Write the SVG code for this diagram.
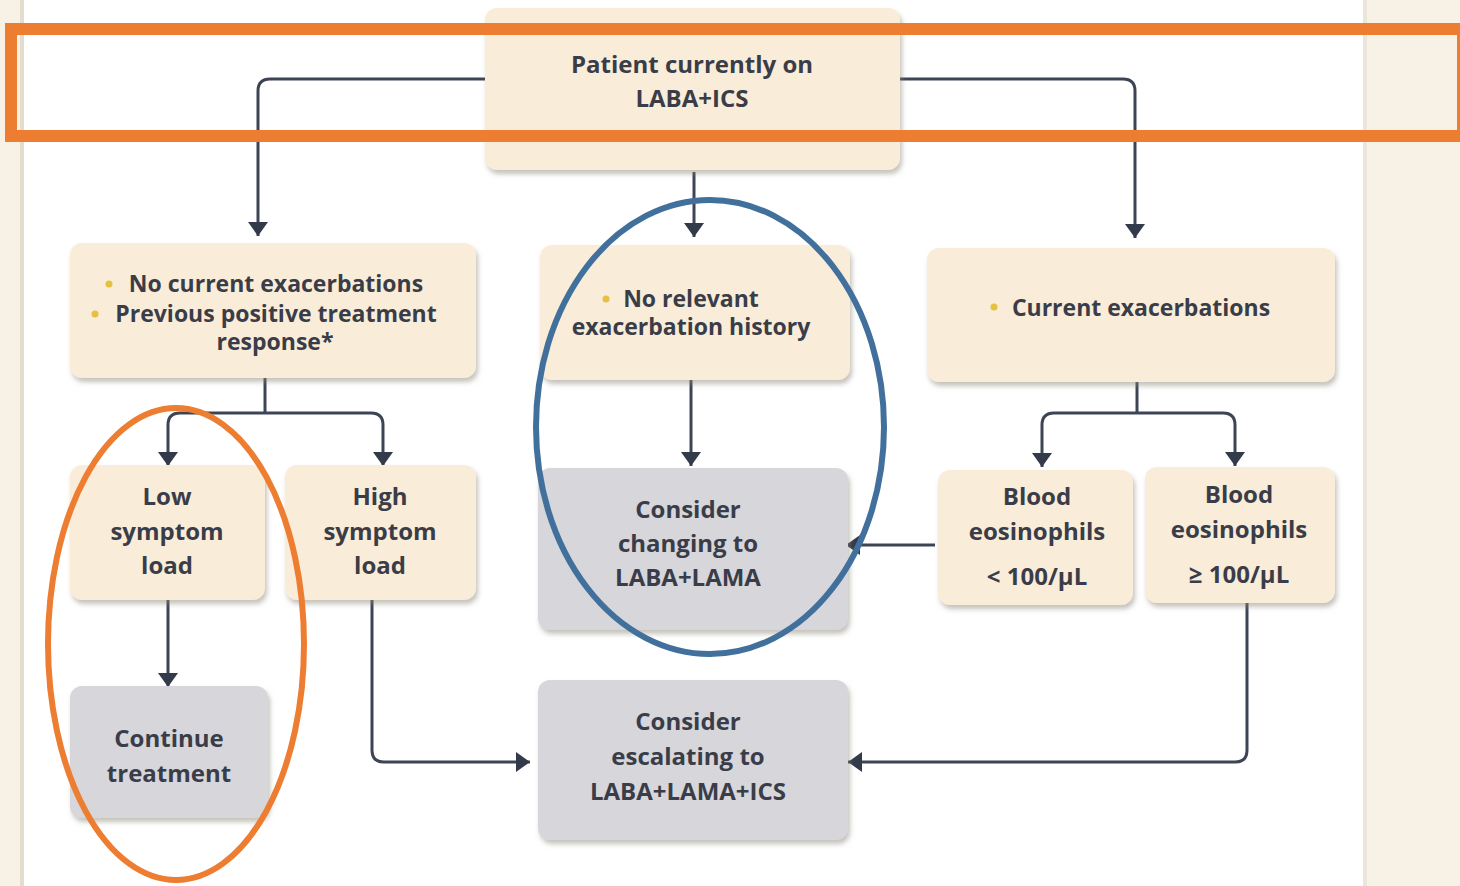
<svg xmlns="http://www.w3.org/2000/svg" width="1460" height="886" viewBox="0 0 1460 886">
<style>
.bg{fill:#ffffff}
.strip{fill:#f8f1e5}
.box{fill:#f9ecd8}
.gbox{fill:#d6d6db}
.t{font-family:"Open Sans","Noto Sans","Liberation Sans",sans-serif;font-weight:700;font-size:24px;fill:#3a3d48;text-anchor:middle}
.s{font-size:23px}
.c{fill:none;stroke:#3d4454;stroke-width:3}
.dot{fill:#e6c040}
.hl-o{fill:none;stroke:#ed7d31;stroke-width:12}
.el-o{fill:none;stroke:#ed7d31;stroke-width:6}
.el-b{fill:none;stroke:#41709c;stroke-width:6}
</style>
<defs>
<filter id="sh" x="-10%" y="-10%" width="125%" height="130%">
<feDropShadow dx="2" dy="4" stdDeviation="2.5" flood-color="#8a8478" flood-opacity="0.5"/>
</filter>
<marker id="ah" viewBox="0 0 14 20" refX="14" refY="10" markerWidth="14" markerHeight="20" markerUnits="userSpaceOnUse" orient="auto">
<path d="M0,0 L14,10 L0,20 Z" fill="#333a4a"/>
</marker>
</defs>
<rect class="bg" x="0" y="0" width="1460" height="886"/>
<rect class="strip" x="0" y="0" width="20" height="886"/>
<rect x="20" y="0" width="4" height="886" fill="#e4dccd"/>
<rect class="strip" x="1365" y="0" width="95" height="886"/>
<rect x="1363" y="0" width="4" height="886" fill="#ece6da"/>

<g id="connectors">
<path class="c" d="M485,79 H270 Q258,79 258,91 V236" marker-end="url(#ah)"/>
<path class="c" d="M900,79 H1123 Q1135,79 1135,91 V238" marker-end="url(#ah)"/>
<path class="c" d="M694,172 V237" marker-end="url(#ah)"/>
<path class="c" d="M265,378 V413"/>
<path class="c" d="M265,413 H180 Q168,413 168,425 V466" marker-end="url(#ah)"/>
<path class="c" d="M265,413 H371 Q383,413 383,425 V466" marker-end="url(#ah)"/>
<path class="c" d="M168,600 V687" marker-end="url(#ah)"/>
<path class="c" d="M372,600 V750 Q372,762 384,762 H530" marker-end="url(#ah)"/>
<path class="c" d="M691,380 V466" marker-end="url(#ah)"/>
<path class="c" d="M1137,382 V413"/>
<path class="c" d="M1137,413 H1054 Q1042,413 1042,425 V467" marker-end="url(#ah)"/>
<path class="c" d="M1137,413 H1223 Q1235,413 1235,425 V466" marker-end="url(#ah)"/>
<path class="c" d="M935,545 H846" marker-end="url(#ah)"/>
<path class="c" d="M1247,603 V750 Q1247,762 1235,762 H848" marker-end="url(#ah)"/>
</g>

<g id="n-start">
<rect class="box" x="485" y="8" width="415" height="162" rx="12" filter="url(#sh)"/>
<text class="t" x="692" y="73">Patient currently on</text>
<text class="t" x="692" y="107">LABA+ICS</text>
</g>

<g id="n-noexac">
<rect class="box" x="70" y="243" width="406" height="135" rx="12" filter="url(#sh)"/>
<circle class="dot" cx="109" cy="284" r="3.5"/>
<text class="t s" x="276" y="292">No current exacerbations</text>
<circle class="dot" cx="95" cy="314" r="3.5"/>
<text class="t s" x="276" y="322">Previous positive treatment</text>
<text class="t s" x="275" y="350">response*</text>
</g>

<g id="n-norel">
<rect class="box" x="540" y="245" width="310" height="135" rx="12" filter="url(#sh)"/>
<circle class="dot" cx="606" cy="299" r="3.5"/>
<text class="t s" x="691" y="307">No relevant</text>
<text class="t s" x="691" y="335">exacerbation history</text>
</g>

<g id="n-curexac">
<rect class="box" x="927" y="248" width="408" height="134" rx="12" filter="url(#sh)"/>
<circle class="dot" cx="994" cy="307" r="3.5"/>
<text class="t s" x="1141" y="316">Current exacerbations</text>
</g>

<g id="n-low">
<rect class="box" x="70" y="465" width="195" height="135" rx="12" filter="url(#sh)"/>
<text class="t" x="167" y="505">Low</text>
<text class="t" x="167" y="540">symptom</text>
<text class="t" x="167" y="574">load</text>
</g>

<g id="n-high">
<rect class="box" x="285" y="465" width="191" height="135" rx="12" filter="url(#sh)"/>
<text class="t" x="380" y="505">High</text>
<text class="t" x="380" y="540">symptom</text>
<text class="t" x="380" y="574">load</text>
</g>

<g id="n-change">
<rect class="gbox" x="538" y="468" width="310" height="162" rx="12" filter="url(#sh)"/>
<text class="t" x="688" y="518">Consider</text>
<text class="t" x="688" y="552">changing to</text>
<text class="t" x="688" y="586">LABA+LAMA</text>
</g>

<g id="n-eoslow">
<rect class="box" x="938" y="470" width="195" height="135" rx="12" filter="url(#sh)"/>
<text class="t" x="1037" y="505">Blood</text>
<text class="t" x="1037" y="540">eosinophils</text>
<text class="t" x="1037" y="585">&lt; 100/µL</text>
</g>

<g id="n-eoshigh">
<rect class="box" x="1145" y="467" width="190" height="136" rx="12" filter="url(#sh)"/>
<text class="t" x="1239" y="503">Blood</text>
<text class="t" x="1239" y="538">eosinophils</text>
<text class="t" x="1239" y="583">≥ 100/µL</text>
</g>

<g id="n-continue">
<rect class="gbox" x="70" y="686" width="198" height="132" rx="12" filter="url(#sh)"/>
<text class="t" x="169" y="747">Continue</text>
<text class="t" x="169" y="782">treatment</text>
</g>

<g id="n-escalate">
<rect class="gbox" x="538" y="680" width="310" height="160" rx="12" filter="url(#sh)"/>
<text class="t" x="688" y="730">Consider</text>
<text class="t" x="688" y="765">escalating to</text>
<text class="t" x="688" y="800">LABA+LAMA+ICS</text>
</g>

<g id="annotations">
<rect class="hl-o" x="11" y="29" width="1452" height="107"/>
<ellipse class="el-o" cx="176" cy="644" rx="128" ry="236"/>
<ellipse class="el-b" cx="710" cy="427" rx="174" ry="227"/>
</g>
</svg>
